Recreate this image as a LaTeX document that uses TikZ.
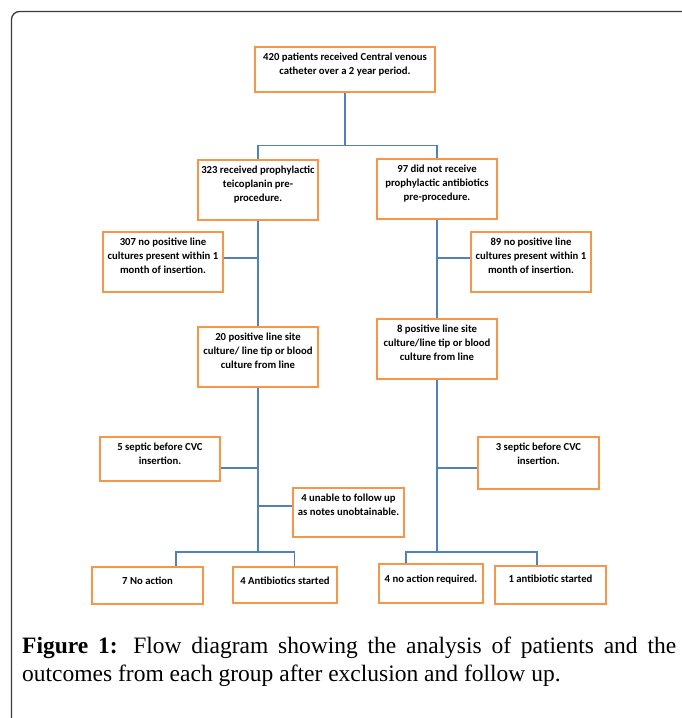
\documentclass[tikz,border=0pt]{standalone}
\usepackage{fontspec}
\usepackage{xcolor}
\newfontfamily\boxfont{Carlito}
\newfontfamily\capfont{Liberation Serif}
\definecolor{boxorange}{HTML}{F79646}
\definecolor{lineblue}{HTML}{4F81BD}
\definecolor{framegray}{HTML}{3A3A3A}
% box text: width, height, lines (first baseline sits near the top)
\newcommand{\cell}[4][13.5pt]{\parbox[c][#3][t]{#2}{\centering\rule{0pt}{#1}#4}}

\begin{document}
\begin{tikzpicture}[x=1pt,y=-1pt,
    box/.style={draw=boxorange,line width=2.4pt,inner sep=0pt,font=\boxfont\bfseries\fontsize{10.7}{14.2}\selectfont},
    link/.style={draw=lineblue,line width=1.2pt}]
    \useasboundingbox (0,0) rectangle (681,718);
    \draw[framegray,line width=1.3pt,rounded corners=8pt] (11.5,720) -- (11.5,11.5) -- (683,11.5);

    % boxes
    \node[box] (top) at (345,69.5) {\cell{180pt}{45pt}{420 patients received Central venous\\catheter over a 2 year period.}};
    \node[box] (teico) at (258,190) {\cell{120pt}{60pt}{323 received prophylactic\\teicoplanin pre-\\procedure.}};
    \node[box] (noabx) at (437,189) {\cell{120pt}{60pt}{97 did not receive\\prophylactic antibiotics\\pre-procedure.}};
    \node[box] (neg307) at (163,262) {\cell{120pt}{60pt}{307 no positive line\\cultures present within 1\\month of insertion.}};
    \node[box] (neg89) at (531,262) {\cell{120pt}{60pt}{89 no positive line\\cultures present within 1\\month of insertion.}};
    \node[box] (pos20) at (258,357) {\cell{120pt}{60pt}{20 positive line site\\culture/ line tip or blood\\culture from line}};
    \node[box] (pos8) at (437,349) {\cell{120pt}{60pt}{8 positive line site\\culture/line tip or blood\\culture from line}};
    \node[box] (sep5) at (160,459) {\cell{120pt}{44pt}{5 septic before CVC\\insertion.}};
    \node[box] (unab4) at (348.5,512.5) {\cell{111pt}{49pt}{4 unable to follow up\\as notes unobtainable.}};
    \node[box] (sep3) at (538.5,463) {\cell{121pt}{52pt}{3 septic before CVC\\insertion.}};
    \node[box] (noact7) at (147.5,585.5) {\cell[17.5pt]{111pt}{37pt}{7 No action}};
    \node[box] (abx4) at (285,585) {\cell[17.5pt]{104pt}{36pt}{4 Antibiotics started}};
    \node[box] (noreq4) at (431,583.5) {\cell[18.5pt]{104pt}{39pt}{4 no action required.}};
    \node[box] (abx1) at (550.5,585) {\cell[16.5pt]{111pt}{38pt}{1 antibiotic started}};

    % points on the two trunks
    \coordinate (lt1) at (258,258);
    \coordinate (lt2) at (258,468);
    \coordinate (lt3) at (258,506);
    \coordinate (lsplit) at (258,552);
    \coordinate (rt1) at (437,258);
    \coordinate (rt2) at (437,468);
    \coordinate (rsplit) at (437,552);

    % connectors
    \draw[link] (top.south) -- ++(0,52) coordinate (split) -| (teico.north);
    \draw[link] (split) -| (noabx.north);
    \draw[link] (teico.south) -- (pos20.north);
    \draw[link] (noabx.south) -- (pos8.north);
    \draw[link] (lt1 -| neg307.east) -- (lt1);
    \draw[link] (rt1 -| neg89.west) -- (rt1);
    \draw[link] (pos20.south) -- (lsplit);
    \draw[link] (pos8.south) -- (rsplit);
    \draw[link] (lt2 -| sep5.east) -- (lt2);
    \draw[link] (lt3 -| unab4.west) -- (lt3);
    \draw[link] (rt2 -| sep3.west) -- (rt2);
    \draw[link] (lsplit) -| ([xshift=28.5pt]noact7.north);
    \draw[link] (lsplit) -| ([xshift=9.5pt]abx4.north);
    \draw[link] (rsplit) -| ([xshift=-25pt]noreq4.north);
    \draw[link] (rsplit) -| ([xshift=-13.5pt]abx1.north);

    % caption
    \node[anchor=base west,text width=654pt,align=justify,inner sep=0pt,
        font=\capfont\fontsize{23.5}{28}\selectfont] (caption) at (22,653)
        {\textbf{Figure 1:} Flow diagram showing the analysis of patients and the\linebreak outcomes from each group after exclusion and follow up.};
\end{tikzpicture}
\end{document}
